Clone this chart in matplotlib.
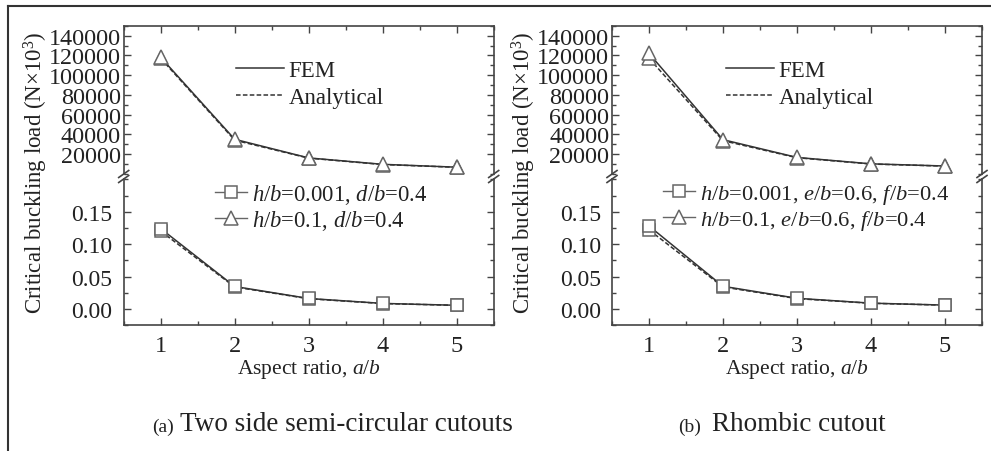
import matplotlib
matplotlib.use("Agg")
import matplotlib.pyplot as plt
from matplotlib.lines import Line2D
from matplotlib.ticker import MultipleLocator, FixedLocator, FormatStrFormatter

plt.rcParams['font.family'] = ['Liberation Serif', 'DejaVu Serif']
plt.rcParams['mathtext.fontset'] = 'custom'
plt.rcParams['mathtext.rm'] = 'Liberation Serif'
plt.rcParams['mathtext.it'] = 'Liberation Serif:italic'
plt.rcParams['mathtext.bf'] = 'Liberation Serif:bold'

# ---------------- data ----------------
aspect_ratio = [1, 2, 3, 4, 5]

# (a) Two side semi-circular cutouts
a_tri_fem = [118000, 34900, 16000, 9500, 6600]
a_tri_ana = [117000, 34000, 15800, 9300, 6500]
a_sq_fem = [0.124, 0.0347, 0.0162, 0.0086, 0.0057]
a_sq_ana = [0.120, 0.0340, 0.0158, 0.0084, 0.0056]

# (b) Rhombic cutout
b_tri_fem = [122000, 34500, 16500, 10000, 7800]
b_tri_ana = [117000, 33500, 16200, 9800, 7700]
b_sq_fem = [0.128, 0.0350, 0.0165, 0.0090, 0.0060]
b_sq_ana = [0.122, 0.0340, 0.0160, 0.0088, 0.0059]

upper_ticks = [20000, 40000, 60000, 80000, 100000, 120000, 140000]
lower_ticks = [0.00, 0.05, 0.10, 0.15]

legend_a = [r'$h/b$=0.001, $d/b$=0.4', r'$h/b$=0.1, $d/b$=0.4']
legend_b = [r'$h/b$=0.001, $e/b$=0.6, $f/b$=0.4', r'$h/b$=0.1, $e/b$=0.6, $f/b$=0.4']
captions = [('(a)', 'Two side semi-circular cutouts'), ('(b)', 'Rhombic cutout')]

# ---------------- style ----------------
W, H = 991, 452
LINE = '#333333'
MEDGE = '#666666'
SPINE = '#444444'
TXT = '#222222'

fig = plt.figure(figsize=(W / 100, H / 100), dpi=100)


def fx(px):
    return px / W


def fy(py):
    return 1 - py / H


def style_axis(ax):
    for s in ax.spines.values():
        s.set_color(SPINE)
        s.set_linewidth(1.2)
    ax.tick_params(which='both', direction='in', top=True, right=True,
                   colors=SPINE, labelcolor=TXT, labelsize=17, width=1.0)
    ax.tick_params(axis='x', labelsize=17.5)
    ax.tick_params(which='major', length=5)
    ax.tick_params(which='minor', length=3)
    ax.set_xlim(0.5, 5.5)
    ax.xaxis.set_major_locator(FixedLocator(aspect_ratio))
    ax.xaxis.set_minor_locator(MultipleLocator(0.5))


panels = [
    (123.7, a_tri_fem, a_tri_ana, a_sq_fem, a_sq_ana, legend_a, 236, 215, 16.3),
    (612.0, b_tri_fem, b_tri_ana, b_sq_fem, b_sq_ana, legend_b, 726, 663, 16.2),
]

ax_w = 370
y_top, y_upbot = 26.8, 174.7
y_lotop, y_bot = 180.3, 326.2

for i, (x0, tf, ta, sf, sa, leg, leg1x, leg2x, lfs) in enumerate(panels):
    ax_up = fig.add_axes([fx(x0), fy(y_upbot), ax_w / W, (y_upbot - y_top) / H])
    ax_lo = fig.add_axes([fx(x0), fy(y_bot), ax_w / W, (y_bot - y_lotop) / H])
    for ax in (ax_up, ax_lo):
        style_axis(ax)
    ax_up.spines['bottom'].set_visible(False)
    ax_lo.spines['top'].set_visible(False)
    ax_up.tick_params(which='both', bottom=False, labelbottom=False)
    ax_lo.tick_params(which='both', top=False)

    ax_up.set_ylim(0, 150000)
    ax_up.yaxis.set_major_locator(FixedLocator(upper_ticks))
    ax_up.yaxis.set_minor_locator(MultipleLocator(10000))
    ax_up.yaxis.set_major_formatter(FormatStrFormatter('%d'))

    ax_lo.set_ylim(-0.025, 0.2)
    ax_lo.yaxis.set_major_locator(FixedLocator(lower_ticks))
    ax_lo.yaxis.set_minor_locator(MultipleLocator(0.025))
    ax_lo.yaxis.set_major_formatter(FormatStrFormatter('%.2f'))
    ax_up.tick_params(axis='y', pad=2, labelsize=17.4)
    ax_lo.tick_params(axis='y', pad=8)
    ax_lo.tick_params(axis='x', pad=7)

    tri_kw = dict(marker='^', ms=10, mfc='white', mec=MEDGE, mew=1.1)
    sq_kw = dict(marker='s', ms=8.5, mfc='white', mec=MEDGE, mew=1.1)
    ax_up.plot(aspect_ratio, ta, color=LINE, lw=1.1, ls=(0, (3, 1.5)), **tri_kw)
    ax_up.plot(aspect_ratio, tf, color=LINE, lw=1.1, ls='-', **tri_kw)
    ax_lo.plot(aspect_ratio, sa, color=LINE, lw=1.1, ls=(0, (3, 1.5)), **sq_kw)
    ax_lo.plot(aspect_ratio, sf, color=LINE, lw=1.1, ls='-', **sq_kw)

    ax_lo.set_xlabel(r'Aspect ratio, $a/b$', fontsize=15.5, color=TXT, labelpad=1)
    fig.text(fx(36 + (x0 - 123.7)), fy(173), r'Critical buckling load (N$\times$10$^3$)',
             rotation=90, ha='center', va='center', fontsize=16.5, color=TXT)

    # legend: method
    h1 = [Line2D([], [], color=LINE, lw=1.1, ls='-'),
          Line2D([], [], color=LINE, lw=1.1, ls=(0, (3, 1.5)))]
    lg1 = ax_up.legend(h1, ['FEM', 'Analytical'], loc='center left',
                       bbox_to_anchor=(fx(leg1x), fy(85)), bbox_transform=fig.transFigure,
                       frameon=False, fontsize=16.5, handlelength=2.1, handletextpad=0.2,
                       labelspacing=0.25, borderpad=0, borderaxespad=0)
    for t in lg1.get_texts():
        t.set_color(TXT)

    # legend: series
    h2 = [Line2D([], [], color=MEDGE, lw=1.0, **sq_kw),
          Line2D([], [], color=MEDGE, lw=1.0, **tri_kw)]
    lg2 = ax_lo.legend(h2, leg, loc='center left',
                       bbox_to_anchor=(fx(leg2x), fy(208)), bbox_transform=fig.transFigure,
                       frameon=False, fontsize=lfs, handlelength=1.4, handletextpad=0.25,
                       labelspacing=0.12, borderpad=0, borderaxespad=0)
    for t in lg2.get_texts():
        t.set_color(TXT)

    # break marks on the spines
    for xs in (x0, x0 + ax_w):
        for dy in (-2.5, 2.5):
            yc = (y_upbot + y_lotop) / 2 + dy
            fig.add_artist(Line2D([fx(xs - 5), fx(xs + 5)], [fy(yc + 3.5), fy(yc - 3.5)],
                                  color=SPINE, lw=1.2))

    # caption
    lab, txt = captions[i]
    cx = [152, 678][i]
    fig.text(fx(cx), fy(427), lab, fontsize=14, color=TXT, ha='left', va='center')
    fig.text(fx(cx + 28 if i == 0 else cx + 34), fy(425), txt, fontsize=19.5,
             color=TXT, ha='left', va='center')

# outer frame (left + top)
fig.add_artist(Line2D([fx(8), fx(8)], [fy(7), 0], color='#333333', lw=1.5))
fig.add_artist(Line2D([fx(8), 1], [fy(7), fy(7)], color='#333333', lw=1.5))

fig.savefig('out.png', dpi=100)
